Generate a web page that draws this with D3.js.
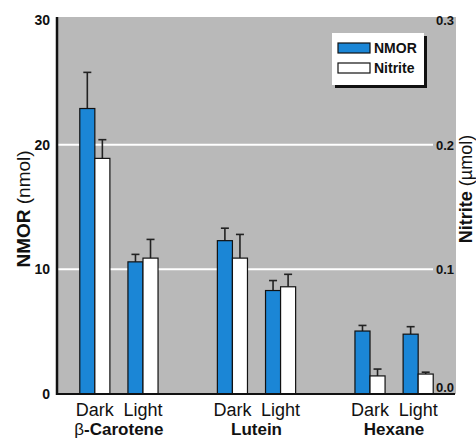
<!DOCTYPE html>
<html>
<head>
<meta charset="utf-8">
<script src="https://cdn.jsdelivr.net/npm/d3@7"></script>
<style>
  html, body { margin: 0; padding: 0; background: #fff; }
  svg { display: block; }
  text { font-family: "Liberation Sans", Arial, Helvetica, sans-serif; }
</style>
</head>
<body>
<svg id="chart" width="476" height="440"></svg>
<script>
// Treatment groups and light conditions
const groups = ["β-Carotene", "Lutein", "Hexane"];
const conditions = ["Dark", "Light"];
const seriesNames = ["NMOR", "Nitrite"];

// NMOR (nmol), order: group × condition
const nmorValues = [22.9, 10.6, 12.3, 8.3, 5.05, 4.8];
const nmorErrors = [2.9, 0.6, 1.0, 0.8, 0.45, 0.6];

// Nitrite (µmol), same order
const nitriteValues = [0.189, 0.109, 0.109, 0.086, 0.0145, 0.016];
const nitriteErrors = [0.015, 0.015, 0.019, 0.010, 0.0055, 0.0015];

// Axis ticks
const leftTicks = [0, 10, 20, 30];
const rightTicks = [0, 0.1, 0.2, 0.3];
const gridTicks = [10, 20];

const colors = { NMOR: "#1b86d6", Nitrite: "#ffffff" };
const plotBg = "#b9b9b9";

const svg = d3.select("#chart");
const plot = { left: 57, right: 456, top: 17, bottom: 394 };

const yLeft = d3.scaleLinear().domain([0, 30]).range([394, 20]);
const yRight = d3.scaleLinear().domain([0, 0.3]).range([394, 20]);

const xGroup = d3.scaleBand().domain(groups)
  .range([plot.left, plot.right]).paddingInner(0.3).paddingOuter(0.1);
const xCond = d3.scaleBand().domain(conditions)
  .range([0, xGroup.bandwidth()]);
const xSeries = d3.scaleBand().domain(seriesNames)
  .range([0, xCond.bandwidth()]).paddingOuter(0.6);

// Plot background
svg.append("rect")
  .attr("x", plot.left).attr("y", plot.top)
  .attr("width", plot.right - plot.left).attr("height", plot.bottom - plot.top)
  .attr("fill", plotBg);

// White gridlines
svg.append("g").selectAll("line").data(gridTicks).join("line")
  .attr("x1", plot.left).attr("x2", 433)
  .attr("y1", d => yLeft(d)).attr("y2", d => yLeft(d))
  .attr("stroke", "#fff").attr("stroke-width", 2);

// Build bar records
const records = [];
groups.forEach((g, gi) => {
  conditions.forEach((c, ci) => {
    const i = gi * conditions.length + ci;
    records.push({ g, c, s: "NMOR", v: nmorValues[i], e: nmorErrors[i], y: yLeft });
    records.push({ g, c, s: "Nitrite", v: nitriteValues[i], e: nitriteErrors[i], y: yRight });
  });
});
const xOf = d => xGroup(d.g) + xCond(d.c) + xSeries(d.s);

// Error bars (upper only)
const eb = svg.append("g").attr("stroke", "#222").attr("stroke-width", 1.6);
eb.selectAll("line.v").data(records).join("line").attr("class", "v")
  .attr("x1", d => xOf(d) + xSeries.bandwidth() / 2)
  .attr("x2", d => xOf(d) + xSeries.bandwidth() / 2)
  .attr("y1", d => d.y(d.v)).attr("y2", d => d.y(d.v + d.e));
eb.selectAll("line.c").data(records).join("line").attr("class", "c")
  .attr("x1", d => xOf(d) + xSeries.bandwidth() / 2 - 4)
  .attr("x2", d => xOf(d) + xSeries.bandwidth() / 2 + 4)
  .attr("y1", d => d.y(d.v + d.e)).attr("y2", d => d.y(d.v + d.e));

// Bars
svg.append("g").selectAll("rect").data(records).join("rect")
  .attr("x", xOf)
  .attr("y", d => d.y(d.v))
  .attr("width", xSeries.bandwidth())
  .attr("height", d => d.y(0) - d.y(d.v))
  .attr("fill", d => colors[d.s])
  .attr("stroke", "#111").attr("stroke-width", 1.2);

// Axis lines
svg.append("line").attr("x1", plot.left).attr("x2", plot.left)
  .attr("y1", plot.top).attr("y2", plot.bottom + 1)
  .attr("stroke", "#111").attr("stroke-width", 2.5);
svg.append("line").attr("x1", plot.left).attr("x2", plot.right - 1)
  .attr("y1", plot.bottom).attr("y2", plot.bottom)
  .attr("stroke", "#111").attr("stroke-width", 2);

// Left axis tick labels
svg.append("g").selectAll("text").data(leftTicks).join("text")
  .attr("x", 50).attr("y", d => yLeft(d) + 5)
  .attr("text-anchor", "end").attr("font-size", 14).attr("font-weight", "bold")
  .attr("fill", "#111").text(d => d);

// Right axis tick labels (inside the plot)
svg.append("g").selectAll("text").data(rightTicks).join("text")
  .attr("x", 454).attr("y", d => d === 0 ? yRight(d) - 2 : yRight(d) + 5)
  .attr("text-anchor", "end").attr("font-size", 13).attr("font-weight", "bold")
  .attr("fill", "#111").text(d => d3.format(".1f")(d));

// Axis titles
const lt = svg.append("text")
  .attr("transform", "translate(30,209) rotate(-90)")
  .attr("text-anchor", "middle").attr("font-size", 19).attr("fill", "#111");
lt.append("tspan").attr("font-weight", "bold").text("NMOR ");
lt.append("tspan").text("(nmol)");

const rt = svg.append("text")
  .attr("transform", "translate(472,189) rotate(-90)")
  .attr("text-anchor", "middle").attr("font-size", 18).attr("fill", "#111");
rt.append("tspan").attr("font-weight", "bold").text("Nitrite ");
rt.append("tspan").text("(µmol)");

// Condition labels
const condLabels = [];
groups.forEach(g => conditions.forEach(c => condLabels.push({ g, c })));
svg.append("g").selectAll("text").data(condLabels).join("text")
  .attr("x", d => xGroup(d.g) + xCond(d.c) + xCond.bandwidth() / 2)
  .attr("y", 416).attr("text-anchor", "middle")
  .attr("font-size", 18).attr("fill", "#111").text(d => d.c);

// Group labels
const gl = svg.append("g").selectAll("text").data(groups).join("text")
  .attr("x", d => xGroup(d) + xGroup.bandwidth() / 2)
  .attr("y", 435).attr("text-anchor", "middle")
  .attr("font-size", 17).attr("fill", "#111");
gl.each(function(d) {
  const t = d3.select(this);
  if (d.startsWith("β")) {
    t.append("tspan").text("β");
    t.append("tspan").attr("font-weight", "bold").text(d.slice(1));
  } else {
    t.append("tspan").attr("font-weight", "bold").text(d);
  }
});

// Legend with drop shadow
const lg = svg.append("g");
lg.append("rect").attr("x", 335).attr("y", 36).attr("width", 92).attr("height", 52).attr("fill", "#111");
lg.append("rect").attr("x", 332).attr("y", 33).attr("width", 92).attr("height", 52).attr("fill", "#fff");
seriesNames.forEach((s, i) => {
  lg.append("rect").attr("x", 338).attr("y", 43 + i * 20).attr("width", 32).attr("height", 10)
    .attr("fill", colors[s]).attr("stroke", "#111").attr("stroke-width", 1.2);
  lg.append("text").attr("x", 374).attr("y", 53 + i * 20)
    .attr("font-size", 14).attr("font-weight", "bold").attr("fill", "#111").text(s);
});
</script>
</body>
</html>
